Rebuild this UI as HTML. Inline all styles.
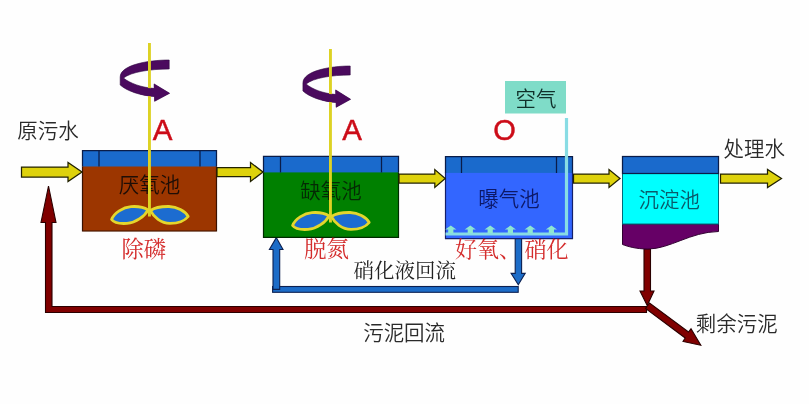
<!DOCTYPE html>
<html lang="zh-CN">
<head>
<meta charset="utf-8">
<title>A/A/O 工艺流程</title>
<style>
html,body{margin:0;padding:0;background:#fff;}
body{width:809px;height:404px;overflow:hidden;}
svg{display:block;}
svg{will-change:transform;transform:translateZ(0);}
.sans{font-family:"Liberation Sans","Noto Sans CJK SC",sans-serif;font-weight:350;fill:#2a2a2a;}
.serif{font-family:"Liberation Serif","Noto Serif CJK SC",serif;}
.lat{font-family:"Liberation Sans","Noto Sans CJK SC",sans-serif;fill:#cc0c18;stroke:#cc0c18;stroke-width:0.45px;}
</style>
</head>
<body>
<svg width="809" height="404" viewBox="0 0 809 404">
<rect width="809" height="404" fill="#fefefe"/>

<!-- sludge return (dark red) -->
<g fill="#800000" stroke="#2a0000" stroke-width="1.1" stroke-linejoin="miter">
  <path d="M45.5,312.5 V222.5 H41 L48.5,186 L56,222.5 H52 V306.5 H646.5 V312.5 Z"/>
  <path d="M644,249 H650.5 V291 H654 L647.2,305.5 L640,291 H644 Z"/>
  <path d="M645.5,308.5 L649.5,303 L688.5,332 L691,328.8 L700.8,345.3 L683,341.5 L685.2,338 Z"/>
</g>

<!-- nitrified liquid return (blue) -->
<g fill="#1c6cc8" stroke="#0c2050" stroke-width="1.1">
  <rect x="272.6" y="286.5" width="245.6" height="5.8"/>
  <path d="M273,289.4 V249.5 H269.4 L276.3,237.6 L283,249.5 H279.7 V289.4 Z"/>
  <path d="M515.2,238 H521.6 V273.4 H525.2 L518.3,284.8 L511.1,273.4 H515.2 Z"/>
</g>

<!-- tank 1 -->
<rect x="82.5" y="150.5" width="134" height="80.7" fill="#9c3600"/>
<rect x="82.5" y="150.5" width="134" height="16" fill="#1a6acc"/>
<path d="M82.5,166.5 V150.5 H216.5 V166.5 M99,150.5 V166.5 M200,150.5 V166.5" fill="none" stroke="#0a1c48" stroke-width="1.25"/>
<path d="M82.5,166.5 V231 H216.5 V166.5" fill="none" stroke="#3a1200" stroke-width="1.2"/>

<!-- tank 2 -->
<rect x="263.5" y="156.4" width="135" height="81.1" fill="#008000"/>
<rect x="263.5" y="156.4" width="135" height="16" fill="#1a6acc"/>
<path d="M263.5,172.4 V156.4 H398.5 V172.4 M280.5,156.4 V172.4 M381.5,156.4 V172.4" fill="none" stroke="#0a1c48" stroke-width="1.25"/>
<path d="M263.5,172.4 V237.3 H398.5 V172.4" fill="none" stroke="#002a00" stroke-width="1.2"/>

<!-- tank 3 -->
<rect x="445.5" y="156.5" width="127" height="82.2" fill="#3366ff"/>
<rect x="445.5" y="156.5" width="127" height="16.4" fill="#1a6acc"/>
<path d="M445.5,172.9 V156.5 H572.5 V172.9 M461.5,156.5 V172.9 M556.5,156.5 V172.9" fill="none" stroke="#0a1c48" stroke-width="1.25"/>
<path d="M445.5,172.5 V238.6 H572.5 V172.5" fill="none" stroke="#14206a" stroke-width="1.2"/>

<!-- tank 4 -->
<path d="M622.5,224 H718.5 V231.5 C690,232 670,249 648,249 C636,249 628,246.5 622.5,244.5 Z" fill="#660066" stroke="#300030" stroke-width="1"/>
<rect x="622.5" y="173.5" width="96" height="50.5" fill="#00ffff" stroke="#006a7a" stroke-width="1"/>
<rect x="622.5" y="156.5" width="96" height="17" fill="#1a6acc" stroke="#0a1c48" stroke-width="1.25"/>

<!-- yellow flow arrows -->
<g fill="#ded20c" stroke="#222200" stroke-width="1.25">
  <path d="M21.5,167 H68 V162.5 L82,172 L68,181.5 V177 H21.5 Z"/>
  <path d="M217,167.5 H250.5 V162.5 L263,172 L250.5,181.5 V176.5 H217 Z"/>
  <path d="M399,174 H434.8 V169.5 L445.2,178.5 L434.8,187.5 V183 H399 Z"/>
  <path d="M573.5,174 H609 V169.5 L620,178.5 L609,187.5 V183 H573.5 Z"/>
  <path d="M720.5,174 H767.5 V169.5 L781.5,178.5 L767.5,187.5 V183 H720.5 Z"/>
</g>

<!-- air -->
<rect x="505" y="81" width="61" height="32.5" fill="#7fdcc8"/>
<path d="M566.5,118 V234 H445.5" fill="none" stroke="#88dce4" stroke-width="3.2"/>
<g fill="#8fe6d0">
  <path d="M445.2,229.6 L450.8,225.6 L456.40000000000003,229.6 H453.40000000000003 V233 H448.2 V229.6 Z"/>
  <path d="M464.7,229.6 L470.3,225.6 L475.90000000000003,229.6 H472.90000000000003 V233 H467.7 V229.6 Z"/>
  <path d="M484.59999999999997,229.6 L490.2,225.6 L495.8,229.6 H492.8 V233 H487.59999999999997 V229.6 Z"/>
  <path d="M504.79999999999995,229.6 L510.4,225.6 L516.0,229.6 H513.0 V233 H507.79999999999995 V229.6 Z"/>
  <path d="M524.6,229.6 L530.2,225.6 L535.8000000000001,229.6 H532.8000000000001 V233 H527.6 V229.6 Z"/>
  <path d="M545.8,229.6 L551.4,225.6 L557.0,229.6 H554.0 V233 H548.8 V229.6 Z"/>
</g>

<!-- tank labels -->
<text class="sans" font-size="21" text-anchor="middle" fill="#2a1408" style="fill:#1e0e06" transform="translate(149.5,192.0) scale(0.975,1)">厌氧池</text>
<text class="sans" font-size="21" text-anchor="middle" style="fill:#042a04" transform="translate(331.0,198.0) scale(0.975,1)">缺氧池</text>
<text class="sans" font-size="21" text-anchor="middle" style="fill:#0c1868" transform="translate(509.0,206.0) scale(0.975,1)">曝气池</text>
<text class="sans" font-size="21" text-anchor="middle" style="fill:#0a5a6a" transform="translate(669.3,207.4) scale(0.975,1)">沉淀池</text>
<text class="sans" font-size="21" text-anchor="middle" style="fill:#10302a" transform="translate(536.0,106.0) scale(0.975,1)">空气</text>

<!-- mixers -->
<g id="mixer1">
  <path d="M169.2,60 C148,60 120.2,65 120.2,77 L120.2,85 C127,91 140,95.5 154.5,96.5 L154.6,101.3 L169.6,93.3 L154.1,83.9 L154.2,88.5 C142,87.5 130,83.5 123.5,78 C131,72 150,69 169.2,69 Z" fill="#4b0a5e" stroke="#2e0640" stroke-width="0.6"/>
  <rect x="148" y="43" width="2.9" height="173.5" fill="#ddd224"/>
  <path d="M140,86.5 C145,87.8 150,88.3 154.2,88.5 L154.1,83.9 L169.6,93.3 L154.6,101.3 L154.5,96.5 C149,96.2 144,95.4 140,94.3 Z" fill="#4b0a5e"/>
  <path d="M148,209.8 C144,207.2 137,206.2 131,206.6 C123,207.2 114,213 111.6,219.5 C114,222.8 121,223.8 127,223.4 C136,222.8 145,216 148,209.8 Z" fill="#1c6cd0" stroke="#e4d62c" stroke-width="2.8" stroke-linejoin="round"/>
  <path d="M150.5,210.5 C154,208 162,206.4 169,206.5 C177,206.8 185,211 188.2,216.5 C185,220.5 178,223.4 170,223.4 C161,223.2 153.5,217 150.5,210.5 Z" fill="#1c6cd0" stroke="#e4d62c" stroke-width="2.8" stroke-linejoin="round"/>
</g>
<g id="mixer2" transform="translate(181,6)">
  <path transform="translate(169.6,0) scale(0.965,1) translate(-169.6,0)" d="M169.2,60 C148,60 120.2,65 120.2,77 L120.2,85 C127,91 140,95.5 154.5,96.5 L154.6,101.3 L169.6,93.3 L154.1,83.9 L154.2,88.5 C142,87.5 130,83.5 123.5,78 C131,72 150,69 169.2,69 Z" fill="#4b0a5e" stroke="#2e0640" stroke-width="0.6"/>
  <rect x="148" y="43" width="2.9" height="173.5" fill="#ddd224"/>
  <path transform="translate(169.6,0) scale(0.965,1) translate(-169.6,0)" d="M140,86.5 C145,87.8 150,88.3 154.2,88.5 L154.1,83.9 L169.6,93.3 L154.6,101.3 L154.5,96.5 C149,96.2 144,95.4 140,94.3 Z" fill="#4b0a5e"/>
  <path d="M148,209.8 C144,207.2 137,206.2 131,206.6 C123,207.2 114,213 111.6,219.5 C114,222.8 121,223.8 127,223.4 C136,222.8 145,216 148,209.8 Z" fill="#1c6cd0" stroke="#e4d62c" stroke-width="2.8" stroke-linejoin="round"/>
  <path d="M150.5,210.5 C154,208 162,206.4 169,206.5 C177,206.8 185,211 188.2,216.5 C185,220.5 178,223.4 170,223.4 C161,223.2 153.5,217 150.5,210.5 Z" fill="#1c6cd0" stroke="#e4d62c" stroke-width="2.8" stroke-linejoin="round"/>
</g>

<!-- letters -->
<text class="lat" x="162.6" y="140" font-size="29.5" text-anchor="middle">A</text>
<text class="lat" x="352.2" y="140" font-size="29.5" text-anchor="middle">A</text>
<text class="lat" x="504.6" y="139.8" font-size="29" text-anchor="middle">O</text>

<!-- outer labels -->
<text class="sans" font-size="21" transform="translate(17.3,138.2) scale(0.975,1)">原污水</text>
<text class="sans" font-size="21" transform="translate(723.5,156.0) scale(0.975,1)">处理水</text>
<text class="sans" font-size="21" transform="translate(695.8,331.3) scale(0.975,1)">剩余污泥</text>
<text class="sans" font-size="21" transform="translate(363.2,340.3) scale(0.975,1)">污泥回流</text>
<text class="serif" x="353.5" y="277.5" font-size="20.5" fill="#222">硝化液回流</text>
<text class="serif" x="121.5" y="257" font-size="22.3" fill="#d42c2c">除磷</text>
<text class="serif" x="304" y="257" font-size="22.5" fill="#d42c2c">脱氮</text>
<text class="serif" x="455" y="257" font-size="22" fill="#d42c2c">好氧、<tspan dx="3.6">硝化</tspan></text>
</svg>
</body>
</html>
